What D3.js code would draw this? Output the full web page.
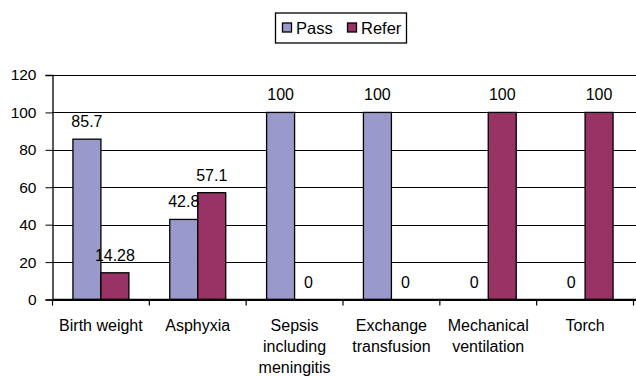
<!DOCTYPE html>
<html>
<head>
<meta charset="utf-8">
<script src="https://cdn.jsdelivr.net/npm/d3@7"></script>
<style>
  html, body { margin: 0; padding: 0; background: #fff; }
  svg { display: block; font-family: "Liberation Sans", Arial, sans-serif; }
</style>
</head>
<body>
<svg id="chart" width="636" height="376"></svg>
<script>
const categories = [
  ["Birth weight"],
  ["Asphyxia"],
  ["Sepsis", "including", "meningitis"],
  ["Exchange", "transfusion"],
  ["Mechanical", "ventilation"],
  ["Torch"]
];
const passValues = [85.7, 42.8, 100, 100, 0, 0];
const referValues = [14.28, 57.1, 0, 0, 100, 100];
const passLabels = ["85.7", "42.8", "100", "100", "0", "0"];
const referLabels = ["14.28", "57.1", "0", "0", "100", "100"];
const seriesNames = ["Pass", "Refer"];
const yTicks = [0, 20, 40, 60, 80, 100, 120];

const colors = { Pass: "#9999cc", Refer: "#993366" };

const svg = d3.select("#chart");
const W = 636, H = 376;
const plotLeft = 52.5, plotRight = 633.5, plotTop = 75, plotBottom = 299.5;

const x = d3.scaleBand()
  .domain(d3.range(categories.length))
  .range([plotLeft, plotRight])
  .paddingInner(0).paddingOuter(0);

const y = d3.scaleLinear().domain([0, 120]).range([plotBottom, plotTop]);

// two bars per category, about 28px each, centred in the band
const sub = d3.scaleBand().domain(seriesNames).range([0, x.bandwidth()]).paddingInner(0).paddingOuter(0.73);

// horizontal gridlines
svg.append("g")
  .selectAll("line")
  .data(yTicks)
  .join("line")
  .attr("x1", plotLeft).attr("x2", W)
  .attr("y1", d => Math.round(y(d)) + 0.5).attr("y2", d => Math.round(y(d)) + 0.5)
  .attr("stroke", "#000").attr("stroke-width", 1);

const series = [
  { name: "Pass", values: passValues, labels: passLabels },
  { name: "Refer", values: referValues, labels: referLabels }
];

// bars
series.forEach(s => {
  svg.append("g")
    .selectAll("rect")
    .data(s.values.map((v, i) => ({ v, i })).filter(d => d.v > 0))
    .join("rect")
    .attr("x", d => x(d.i) + sub(s.name))
    .attr("y", d => y(d.v))
    .attr("width", sub.bandwidth())
    .attr("height", d => y(0) - y(d.v))
    .attr("fill", colors[s.name])
    .attr("stroke", "#000")
    .attr("stroke-width", 1.3);
});

// value labels
series.forEach(s => {
  svg.append("g")
    .selectAll("text")
    .data(s.values.map((v, i) => ({ v, i, t: s.labels[i] })))
    .join("text")
    .attr("x", d => x(d.i) + sub(s.name) + sub.bandwidth() / 2)
    .attr("y", d => y(d.v) - 12)
    .attr("text-anchor", "middle")
    .attr("font-size", 16)
    .attr("fill", "#000")
    .text(d => d.t);
});

// y axis
const yAxis = d3.axisLeft(y).tickValues(yTicks).tickSize(7).tickPadding(9);
const gy = svg.append("g").attr("transform", `translate(${plotLeft},0)`).call(yAxis);
gy.select(".domain").attr("stroke", "#000").attr("stroke-width", 1.3);
gy.selectAll(".tick line").attr("stroke", "#000");
gy.selectAll(".tick text").attr("font-size", 15.5).attr("font-family", "Liberation Sans, Arial, sans-serif").attr("fill", "#000");

// x axis baseline and category separators
const xEdges = d3.range(categories.length + 1).map(i => plotLeft + i * x.bandwidth());
svg.append("line")
  .attr("x1", plotLeft).attr("x2", W)
  .attr("y1", y(0)).attr("y2", y(0))
  .attr("stroke", "#000").attr("stroke-width", 1.3);
svg.append("g").selectAll("line").data(xEdges).join("line")
  .attr("x1", d => d).attr("x2", d => d)
  .attr("y1", y(0)).attr("y2", y(0) + 6)
  .attr("stroke", "#000").attr("stroke-width", 1.2);

// category labels
svg.append("g").selectAll("text")
  .data(categories.map((c, i) => ({ c, i })))
  .join("text")
  .attr("text-anchor", "middle")
  .attr("font-size", 16)
  .attr("fill", "#000")
  .each(function(d) {
    const t = d3.select(this);
    d.c.forEach((line, k) => {
      t.append("tspan")
        .attr("x", x(d.i) + x.bandwidth() / 2)
        .attr("y", y(0) + 31.5 + k * 21)
        .text(line);
    });
  });

// legend
const lg = svg.append("g");
lg.append("rect").attr("x", 275.5).attr("y", 13).attr("width", 131).attr("height", 30)
  .attr("fill", "#fff").attr("stroke", "#000").attr("stroke-width", 1.3);
const items = [{ name: "Pass", sx: 282.5, tx: 296 }, { name: "Refer", sx: 347.5, tx: 361 }];
items.forEach(it => {
  lg.append("rect").attr("x", it.sx).attr("y", 23).attr("width", 9).attr("height", 9)
    .attr("fill", colors[it.name]).attr("stroke", "#000").attr("stroke-width", 1.3);
  lg.append("text").attr("x", it.tx).attr("y", 33.5).attr("font-size", 16.5).attr("fill", "#000").text(it.name);
});
</script>
</body>
</html>
